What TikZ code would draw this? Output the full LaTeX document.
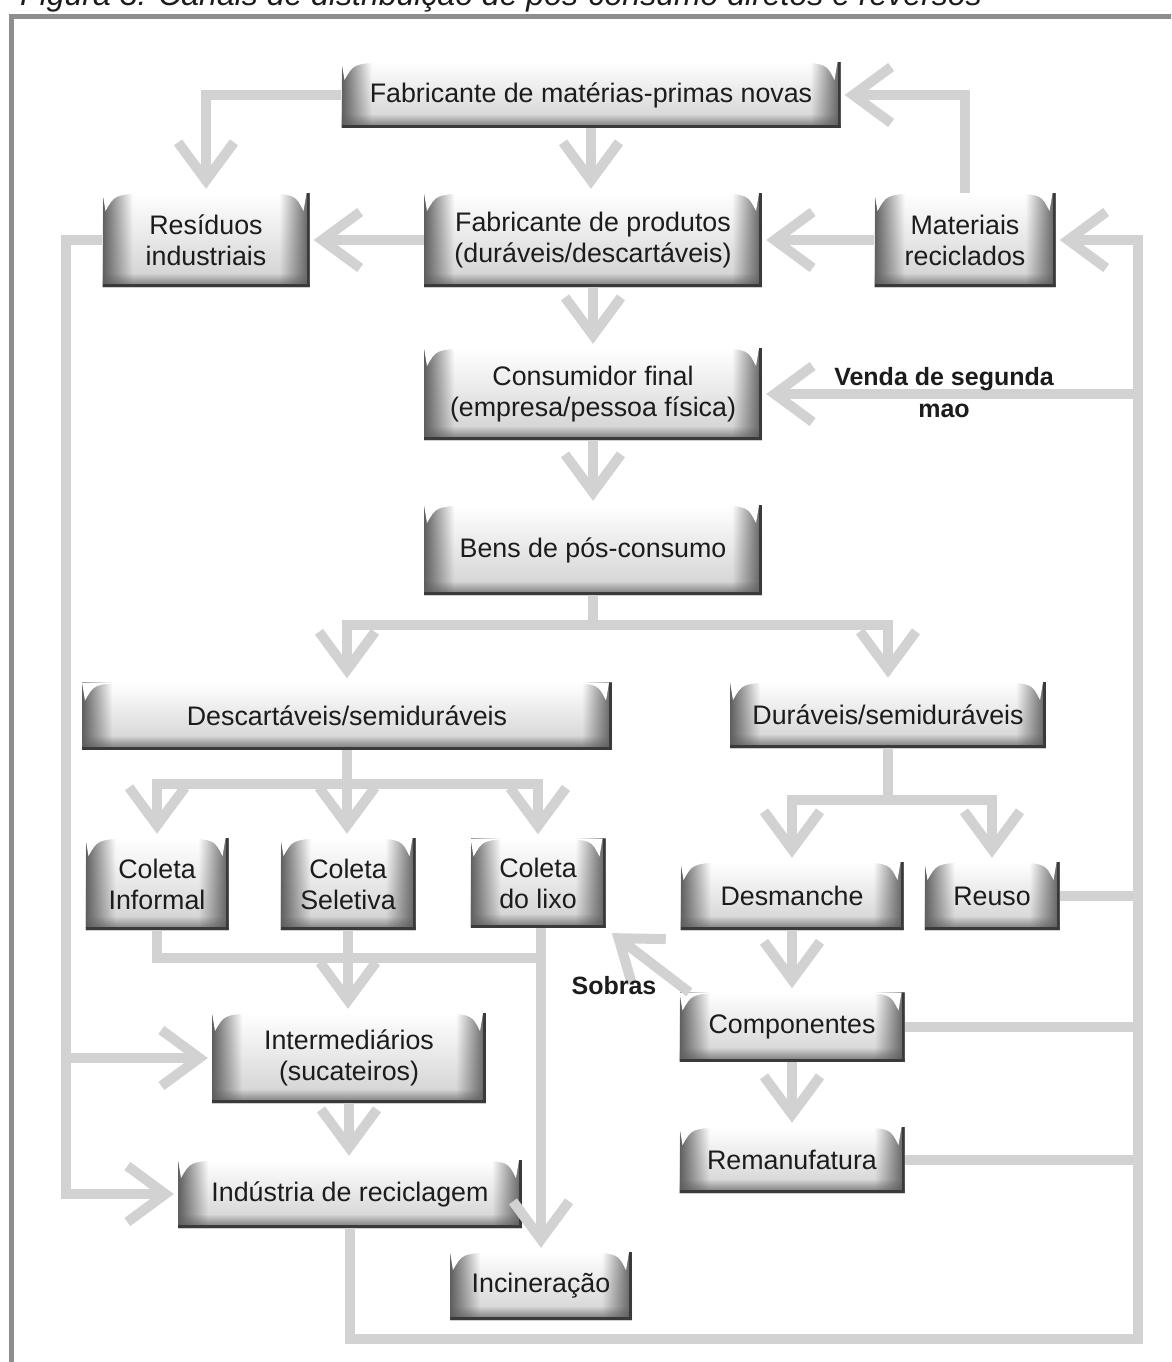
\documentclass[tikz,border=0pt]{standalone}
\usepackage{fontspec}
\setmainfont{Liberation Sans}
\usetikzlibrary{arrows.meta,fadings,calc}

\definecolor{ink}{HTML}{1C1C1C}
\definecolor{flowc}{HTML}{D2D2D2}
\definecolor{framec}{HTML}{8E8E8E}
\definecolor{boxedge}{HTML}{5E5E5E}
\definecolor{boxdark}{HTML}{3A3A3A}
\definecolor{boxlow}{HTML}{CFCFCF}

\tikzfading[name=fromleft, left color=transparent!0, right color=transparent!100]
\tikzfading[name=fromright, left color=transparent!100, right color=transparent!0]
\tikzfading[name=frombottom, top color=transparent!100, bottom color=transparent!0]

\tikzset{
  bevelbox/.style={rectangle, inner sep=0pt, align=center, text=ink,
    font=\fontsize{26.8}{31}\selectfont, fill=white,
    path picture={
      \path (path picture bounding box.north west) coordinate (pnw)
            (path picture bounding box.north east) coordinate (pne)
            (path picture bounding box.south west) coordinate (psw)
            (path picture bounding box.south east) coordinate (pse);
      \shade[top color=white, middle color=white, bottom color=boxlow] (pnw) rectangle (pse);
      \fill[boxedge, path fading=fromleft] (pnw) rectangle ([xshift=30pt]psw);
      \fill[boxedge, path fading=fromright] ([xshift=-30pt]pne) rectangle (pse);
      \fill[boxedge, path fading=frombottom, opacity=0.8] ([yshift=14pt]psw) rectangle (pse);
      \fill[boxdark] (psw) rectangle ([yshift=3pt]pse);
      \fill[boxdark] ([xshift=-3pt]pne) rectangle (pse);
      \fill[white] (pnw) -- ([xshift=42pt]pnw)
        .. controls ([xshift=12pt,yshift=-2pt]pnw) .. ([xshift=3pt,yshift=-18pt]pnw) -- cycle;
      \fill[white] ([xshift=-3pt]pne) -- ([xshift=-42pt]pne)
        .. controls ([xshift=-14pt,yshift=-2pt]pne) .. ([xshift=-6pt,yshift=-18pt]pne) -- cycle;
    }},
  conn/.style={draw=flowc, line width=10pt},
  flow/.style={conn, -{Straight Barb[length=38pt, width=56pt, line width=10pt]}, shorten >=4pt},
  lbl/.style={inner sep=0pt, align=center, text=ink, font=\bfseries\fontsize{25}{32}\selectfont},
}

\begin{document}
\begin{tikzpicture}[x=1pt, y=-1pt]
  \clip (0,0) rectangle (1171,1362);
  \fill[white] (0,0) rectangle (1171,1362);

  % caption and frame
  \node[anchor=base west, inner sep=0pt, text=ink, font=\itshape\fontsize{32}{36}\selectfont] (caption) at (20,6)
    {Figura 3: Canais de distribuição de pós-consumo diretos e reversos};
  \draw[framec, line width=5pt] (11,1380) -- (11,17) -- (1190,17);

  % boxes
  \node[bevelbox, minimum width=499pt, minimum height=66pt] (mp) at (591,95) {Fabricante de matérias-primas novas};
  \node[bevelbox, minimum width=207pt, minimum height=94pt] (res) at (206,240) {Resíduos\\industriais};
  \node[bevelbox, minimum width=338pt, minimum height=94pt] (fp) at (593,240) {Fabricante de produtos\\(duráveis/descartáveis)};
  \node[bevelbox, minimum width=181pt, minimum height=94pt] (mat) at (965,240) {Materiais\\reciclados};
  \node[bevelbox, minimum width=338pt, minimum height=92pt] (cons) at (593,394) {Consumidor final\\(empresa/pessoa física)};
  \node[bevelbox, minimum width=338pt, minimum height=90pt] (bens) at (593,550) {Bens de pós-consumo};
  \node[bevelbox, minimum width=530pt, minimum height=67pt] (desc) at (347,716) {Descartáveis/semiduráveis};
  \node[bevelbox, minimum width=316pt, minimum height=66pt] (dur) at (888,715) {Duráveis/semiduráveis};
  \node[bevelbox, minimum width=143pt, minimum height=92pt] (ci) at (157,884) {Coleta\\Informal};
  \node[bevelbox, minimum width=135pt, minimum height=92pt] (cs) at (348,884) {Coleta\\Seletiva};
  \node[bevelbox, minimum width=135pt, minimum height=89pt] (cl) at (538,883) {Coleta\\do lixo};
  \node[bevelbox, minimum width=223pt, minimum height=68pt] (desm) at (792,896) {Desmanche};
  \node[bevelbox, minimum width=135pt, minimum height=68pt] (reuso) at (992,896) {Reuso};
  \node[bevelbox, minimum width=225pt, minimum height=69pt] (comp) at (792,1027) {Componentes};
  \node[bevelbox, minimum width=274pt, minimum height=90pt] (inter) at (349,1058) {Intermediários\\(sucateiros)};
  \node[bevelbox, minimum width=344pt, minimum height=68pt] (ind) at (350,1194) {Indústria de reciclagem};
  \node[bevelbox, minimum width=225pt, minimum height=66pt] (reman) at (792,1160) {Remanufatura};
  \node[bevelbox, minimum width=182pt, minimum height=68pt] (inc) at (541,1286) {Incineração};

  % upper tier
  \draw[flow] (mp.west) -| (res.north);
  \draw[flow] (mp.south) -- (mp.south |- fp.north);
  \draw[flow] (mat.north) |- (mp.east);
  \draw[flow] (fp.west) -- (res.east);
  \draw[flow] (mat.west) -- (fp.east);
  \draw[flow] (fp.south) -- (cons.north);
  \draw[flow] (cons.south) -- (bens.north);

  % split of post-consumption goods
  \draw[conn] (bens.south) -- ++(0,30) coordinate (bsplit);
  \draw[flow] (bsplit) -| (desc.north);
  \draw[flow] (bsplit) -| (dur.north);

  \draw[conn] (desc.south) -- ++(0,34) coordinate (dsplit);
  \draw[flow] (dsplit) -| (ci.north);
  \draw[flow] (dsplit) -- (dsplit |- cs.north);
  \draw[flow] (dsplit) -| (cl.north);

  \draw[conn] (dur.south) -- ++(0,52) coordinate (usplit);
  \draw[flow] (usplit) -| (desm.north);
  \draw[flow] (usplit) -| (reuso.north);

  % collection streams
  \coordinate (cj) at ($(cs.south)+(0,28)$);
  \draw[conn] (ci.south) |- (cj -| inc.north);
  \draw[conn] (cs.south) -- (cj);
  \draw[flow] (cj) -- (cj |- inter.north);
  \draw[flow] (cl.south -| inc.north) -- (inc.north);
  \draw[flow] (inter.south) -- (inter.south |- ind.north);

  % industrial waste loop
  \draw[flow] (res.west) -- ++(-36,0) coordinate (lft) |- (ind.west);
  \draw[flow] (lft |- inter.west) -- (inter.west);

  % durable goods
  \draw[flow] (desm.south) -- (comp.north);
  \draw[flow] (comp.south) -- (reman.north);
  \draw[flow] ([xshift=10pt]comp.north west) -- ([xshift=3pt,yshift=-3pt]cl.south east);

  % return trunk on the right
  \coordinate (rb) at (1138,1339);
  \draw[flow] (ind.south) |- (rb) |- (mat.east);
  \draw[flow] (rb |- cons.east) -- (cons.east);
  \draw[conn] (reuso.east) -- (reuso.east -| rb);
  \draw[conn] (comp.east) -- (comp.east -| rb);
  \draw[conn] (reman.east) -- (reman.east -| rb);

  % labels
  \node[lbl] (venda) at (944,393) {Venda de segunda\\mao};
  \node[lbl] (sobras) at (614,986) {Sobras};
\end{tikzpicture}
\end{document}
